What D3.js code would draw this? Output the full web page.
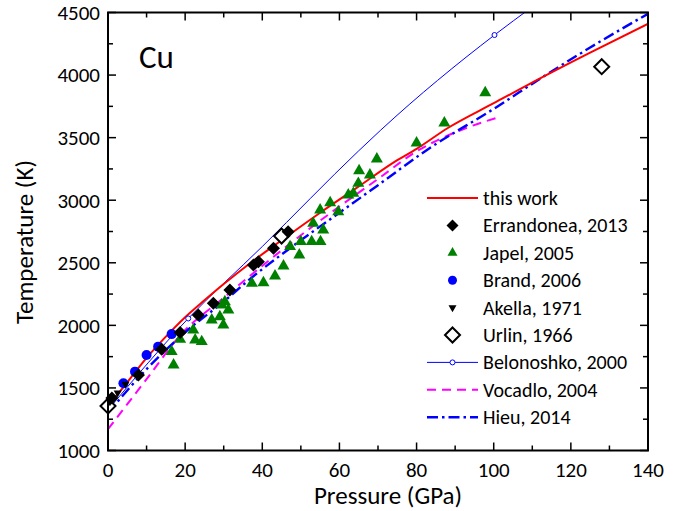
<!DOCTYPE html>
<html>
<head>
<meta charset="utf-8">
<script src="https://cdn.jsdelivr.net/npm/d3@7"></script>
<style>
  body { margin: 0; background: #fff; }
  text { font-family: Carlito, Calibri, "Open Sans", sans-serif; fill: #000; }
</style>
</head>
<body>
<div id="graph"></div>
<script>
// Data //////////////////////////////////////////////////////////////////////
// [pressure GPa, temperature K]
const thisWork = [[0, 1355], [5, 1545], [10, 1740], [15, 1910], [20, 2065], [25, 2200],
  [30, 2330], [37, 2500], [45, 2680], [55, 2900], [65, 3110], [75, 3320], [80, 3410],
  [88, 3575], [100, 3775], [113, 3990], [125, 4180], [140, 4410]];
const hieu = [[0, 1300], [10, 1650], [20, 1945], [30, 2190], [37, 2375], [50, 2680],
  [60, 2900], [70, 3120], [82.6, 3400], [100, 3730], [113, 3990], [125, 4220], [140, 4490]];
const vocadlo = [[0, 1170], [10, 1570], [19, 1930], [30, 2220], [37, 2400], [50, 2720],
  [60, 2950], [70, 3170], [80, 3390], [92.7, 3575], [101.8, 3667]];
const belonoshko = [[0, 1325], [20.8, 2055], [40, 2630], [65, 3395], [70.7, 3560],
  [100.2, 4320], [110, 4545]];
const belonoshkoMarks = [[0, 1325], [20.8, 2055], [100.2, 4320]];
const errandonea = [[1, 1420], [7.9, 1603], [13.9, 1809], [18.7, 1942], [23.4, 2083],
  [27.3, 2176], [31.6, 2282], [37.7, 2482], [39, 2509], [42.9, 2616], [46.7, 2748]];
const japel = [[16.5, 1790], [17, 1683], [18.7, 1888], [22.1, 1963], [22.6, 1883],
  [24.3, 1870], [26.9, 2043], [29, 2069], [29.9, 2003], [31.2, 2123], [29.5, 2163],
  [30.3, 2189], [37.3, 2336], [40.3, 2341], [43.3, 2394], [45.5, 2474], [47.2, 2629],
  [49.6, 2562], [50, 2669], [52.8, 2669], [55.1, 2669], [55.8, 2762], [53.2, 2815],
  [55, 2922], [57.6, 2980], [59.7, 2908], [62.3, 3042], [63.6, 3055], [64.9, 3135],
  [65.1, 3236], [67.9, 3202], [69.7, 3329], [80, 3457], [87.2, 3617], [97.8, 3859]];
const brand = [[4, 1537], [7, 1630], [10, 1763], [13, 1830], [16.5, 1930]];
const akella = [[0.5, 1390], [2.5, 1460], [4.5, 1530]];
const urlin = [[0, 1356], [45, 2714], [128, 4067]];

const legendLabels = ["this work", "Errandonea, 2013", "Japel, 2005", "Brand, 2006",
  "Akella, 1971", "Urlin, 1966", "Belonoshko, 2000", "Vocadlo, 2004", "Hieu, 2014"];

// Constants ////////////////////////////////////////////////////////////////
const svgWidth = 684;
const svgHeight = 511;
const margin = { left: 108, right: 36, top: 12.5, bottom: 60.5 };
const plotW = svgWidth - margin.left - margin.right;
const plotH = svgHeight - margin.top - margin.bottom;

const x = d3.scaleLinear().domain([0, 140]).range([margin.left, margin.left + plotW]);
const y = d3.scaleLinear().domain([1000, 4500]).range([margin.top + plotH, margin.top]);

const svg = d3.select("#graph").append("svg")
  .attr("width", svgWidth)
  .attr("height", svgHeight);

svg.append("defs").append("clipPath").attr("id", "plotClip")
  .append("rect")
  .attr("x", margin.left).attr("y", margin.top)
  .attr("width", plotW).attr("height", plotH);

// Shapes ////////////////////////////////////////////////////////////////////
function diamond(r) {
  return `M0,${-r}L${r},0L0,${r}L${-r},0Z`;
}
function triUp(a) {
  const h = a * Math.sqrt(3) / 2;
  return `M0,${-2 * h / 3}L${a / 2},${h / 3}L${-a / 2},${h / 3}Z`;
}
function triDown(a) {
  const h = a * Math.sqrt(3) / 2;
  return `M0,${2 * h / 3}L${a / 2},${-h / 3}L${-a / 2},${-h / 3}Z`;
}

const line = d3.line().x(d => x(d[0])).y(d => y(d[1])).curve(d3.curveMonotoneX);

const styles = {
  thisWork: { stroke: "#ff0000", width: 2, dash: null },
  belonoshko: { stroke: "#0000ff", width: 1, dash: null },
  vocadlo: { stroke: "#ff00ff", width: 2, dash: "9,6" },
  hieu: { stroke: "#0000ff", width: 2.4, dash: "11,4,2.5,4" }
};

// Scatter (behind lines) ////////////////////////////////////////////////////
const plot = svg.append("g");

plot.selectAll(".japel").data(japel).join("path")
  .attr("class", "japel")
  .attr("transform", d => `translate(${x(d[0])},${y(d[1])})`)
  .attr("d", triUp(12))
  .attr("fill", "#008000");

plot.selectAll(".brand").data(brand).join("circle")
  .attr("class", "brand")
  .attr("cx", d => x(d[0])).attr("cy", d => y(d[1]))
  .attr("r", 5)
  .attr("fill", "#0000ff");

// Lines /////////////////////////////////////////////////////////////////////
const lines = svg.append("g").attr("clip-path", "url(#plotClip)");

[["belonoshko", belonoshko], ["vocadlo", vocadlo], ["hieu", hieu], ["thisWork", thisWork]]
  .forEach(([key, data]) => {
    const s = styles[key];
    lines.append("path")
      .attr("d", line(data))
      .attr("fill", "none")
      .attr("stroke", s.stroke)
      .attr("stroke-width", s.width)
      .attr("stroke-dasharray", s.dash);
  });

lines.selectAll(".belMark").data(belonoshkoMarks).join("circle")
  .attr("class", "belMark")
  .attr("cx", d => x(d[0])).attr("cy", d => y(d[1]))
  .attr("r", 2.5)
  .attr("fill", "#fff")
  .attr("stroke", "#0000ff")
  .attr("stroke-width", 1);

// Scatter (front) ///////////////////////////////////////////////////////////
plot.raise();
const front = svg.append("g");

front.selectAll(".urlin").data(urlin).join("path")
  .attr("class", "urlin")
  .attr("transform", d => `translate(${x(d[0])},${y(d[1])})`)
  .attr("d", diamond(7.5))
  .attr("fill", "#fff")
  .attr("stroke", "#000")
  .attr("stroke-width", 2);

front.selectAll(".akella").data(akella).join("path")
  .attr("class", "akella")
  .attr("transform", d => `translate(${x(d[0])},${y(d[1])})`)
  .attr("d", triDown(8))
  .attr("fill", "#000");

front.selectAll(".errandonea").data(errandonea).join("path")
  .attr("class", "errandonea")
  .attr("transform", d => `translate(${x(d[0])},${y(d[1])})`)
  .attr("d", diamond(6.5))
  .attr("fill", "#000");

// Axes //////////////////////////////////////////////////////////////////////
const axes = svg.append("g");
const xMajor = d3.range(0, 141, 20);
const xMinor = d3.range(10, 140, 20);
const yMajor = d3.range(1000, 4501, 500);
const yMinor = d3.range(1250, 4500, 500);
const majorLen = 8;
const minorLen = 5;
const x0 = margin.left, x1 = margin.left + plotW;
const y0 = margin.top + plotH, y1 = margin.top;

function tick(g, x1_, y1_, x2_, y2_) {
  g.append("line")
    .attr("x1", x1_).attr("y1", y1_).attr("x2", x2_).attr("y2", y2_)
    .attr("stroke", "#000").attr("stroke-width", 1.5);
}

xMajor.forEach(v => {
  tick(axes, x(v), y0, x(v), y0 - majorLen);
  tick(axes, x(v), y1, x(v), y1 + majorLen);
});
xMinor.forEach(v => {
  tick(axes, x(v), y0, x(v), y0 - minorLen);
  tick(axes, x(v), y1, x(v), y1 + minorLen);
});
yMajor.forEach(v => {
  tick(axes, x0, y(v), x0 + majorLen, y(v));
  tick(axes, x1, y(v), x1 - majorLen, y(v));
});
yMinor.forEach(v => {
  tick(axes, x0, y(v), x0 + minorLen, y(v));
  tick(axes, x1, y(v), x1 - minorLen, y(v));
});

axes.append("rect")
  .attr("x", x0).attr("y", y1)
  .attr("width", plotW).attr("height", plotH)
  .attr("fill", "none")
  .attr("stroke", "#000")
  .attr("stroke-width", 2);

axes.selectAll(".xLabel").data(xMajor).join("text")
  .attr("class", "xLabel")
  .attr("x", d => x(d))
  .attr("y", y0 + 26)
  .attr("text-anchor", "middle")
  .style("font-size", "21px")
  .text(d => d);

axes.selectAll(".yLabel").data(yMajor).join("text")
  .attr("class", "yLabel")
  .attr("x", x0 - 8)
  .attr("y", d => y(d))
  .attr("dy", "0.35em")
  .attr("text-anchor", "end")
  .style("font-size", "21px")
  .text(d => d);

svg.append("text")
  .attr("x", 388)
  .attr("y", 504)
  .attr("text-anchor", "middle")
  .style("font-size", "25px")
  .text("Pressure (GPa)");

svg.append("text")
  .attr("transform", `translate(33,242) rotate(-90)`)
  .attr("text-anchor", "middle")
  .style("font-size", "25px")
  .text("Temperature (K)");

svg.append("text")
  .attr("x", 139)
  .attr("y", 68)
  .style("font-size", "33px")
  .text("Cu");

// Legend ////////////////////////////////////////////////////////////////////
const legend = svg.append("g").attr("transform", "translate(427,198)");
const rowH = 27.4;
const sampleW = 51;
const mid = sampleW / 2;

legendLabels.forEach((label, i) => {
  const row = legend.append("g").attr("transform", `translate(0,${i * rowH})`);
  row.append("text")
    .attr("x", 56)
    .attr("y", 0)
    .attr("dy", "0.35em")
    .style("font-size", "20px")
    .text(label);

  if (i === 0 || i >= 6) {
    const key = ["thisWork", null, null, null, null, null, "belonoshko", "vocadlo", "hieu"][i];
    const s = styles[key];
    row.append("line")
      .attr("x1", 0).attr("x2", sampleW).attr("y1", 0).attr("y2", 0)
      .attr("stroke", s.stroke)
      .attr("stroke-width", s.width)
      .attr("stroke-dasharray", s.dash);
    if (key === "belonoshko") {
      row.append("circle").attr("cx", mid).attr("cy", 0).attr("r", 2.5)
        .attr("fill", "#fff").attr("stroke", "#0000ff");
    }
  } else if (i === 1) {
    row.append("path").attr("transform", `translate(${mid},0)`)
      .attr("d", diamond(6)).attr("fill", "#000");
  } else if (i === 2) {
    row.append("path").attr("transform", `translate(${mid},0)`)
      .attr("d", triUp(10)).attr("fill", "#008000");
  } else if (i === 3) {
    row.append("circle").attr("cx", mid).attr("cy", 0).attr("r", 4.5)
      .attr("fill", "#0000ff");
  } else if (i === 4) {
    row.append("path").attr("transform", `translate(${mid},0)`)
      .attr("d", triDown(8)).attr("fill", "#000");
  } else if (i === 5) {
    row.append("path").attr("transform", `translate(${mid},0)`)
      .attr("d", diamond(7.5)).attr("fill", "#fff")
      .attr("stroke", "#000").attr("stroke-width", 2);
  }
});
</script>
</body>
</html>
